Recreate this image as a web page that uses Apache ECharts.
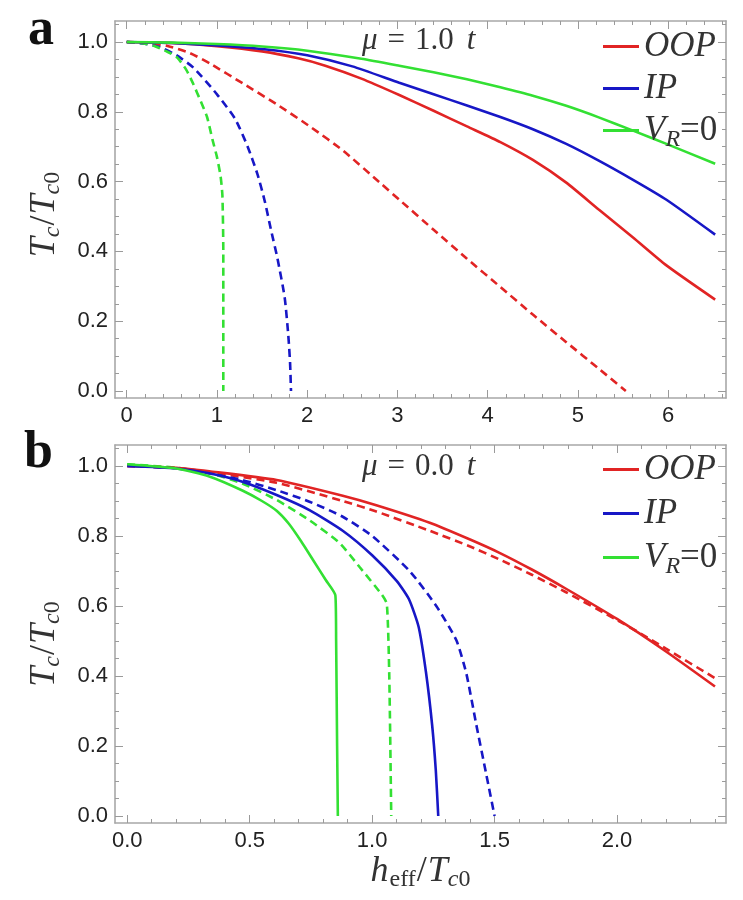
<!DOCTYPE html>
<html><head><meta charset="utf-8">
<script src="https://cdn.jsdelivr.net/npm/echarts@6/dist/echarts.min.js"></script>
<style>html,body{margin:0;padding:0;background:#fff}#c{width:743px;height:900px}</style>
</head><body><div id="c"></div>
<script>
// ---------- data (x = h_eff/Tc0, y = Tc/Tc0) ----------
// panel a : mu = 1.0 t
const aOOP = [[0,1],[0.5,0.997],[1.0,0.988],[1.5,0.973],[1.9,0.953],[2.2,0.932],[2.6,0.895],[3.02,0.848],[3.4,0.803],[3.77,0.758],[4.14,0.713],[4.5,0.662],[4.87,0.597],[5.23,0.52],[5.61,0.44],[5.98,0.36],[6.52,0.262]];
const aIP  = [[0,1],[0.5,0.997],[1.0,0.99],[1.5,0.98],[2.0,0.962],[2.5,0.93],[3.02,0.883],[3.4,0.85],[3.77,0.818],[4.14,0.785],[4.5,0.75],[4.87,0.708],[5.23,0.66],[5.61,0.605],[5.98,0.548],[6.52,0.448]];
const aVR  = [[0,1],[0.5,0.998],[1.0,0.994],[1.5,0.987],[2.0,0.975],[2.6,0.952],[3.02,0.932],[3.4,0.913],[3.77,0.893],[4.14,0.87],[4.5,0.846],[4.87,0.817],[5.23,0.784],[5.61,0.746],[5.98,0.708],[6.52,0.651]];
const aOOPd = [[0,1],[0.2,0.997],[0.44,0.989],[0.7,0.968],[0.93,0.937],[1.3,0.879],[1.67,0.82],[2.04,0.756],[2.4,0.688],[2.8,0.598],[3.02,0.548],[3.4,0.462],[3.77,0.379],[4.14,0.298],[4.5,0.219],[4.87,0.14],[5.23,0.064],[5.53,0]];
const aIPd  = [[0,1],[0.2,0.995],[0.37,0.985],[0.55,0.962],[0.74,0.926],[1.0,0.85],[1.2,0.78],[1.34,0.70],[1.45,0.62],[1.53,0.543],[1.6,0.46],[1.67,0.38],[1.75,0.268],[1.79,0.16],[1.81,0.08],[1.82,0]];
const aVRd  = [[0,1],[0.15,0.997],[0.3,0.989],[0.45,0.972],[0.56,0.955],[0.66,0.92],[0.74,0.878],[0.82,0.83],[0.89,0.785],[0.95,0.72],[1.0,0.67],[1.04,0.615],[1.06,0.56],[1.07,0.4],[1.07,0]];
// panel b : mu = 0.0 t
const bOOP = [[0,1],[0.2,0.995],[0.335,0.985],[0.61,0.96],[0.88,0.915],[1.017,0.888],[1.235,0.838],[1.4,0.79],[1.52,0.752],[1.65,0.705],[1.79,0.65],[2.0,0.563],[2.2,0.47],[2.4,0.37]];
const bIP  = [[0,1],[0.2,0.993],[0.335,0.979],[0.47,0.955],[0.61,0.917],[0.744,0.874],[0.88,0.815],[1.0,0.745],[1.1,0.672],[1.15,0.62],[1.19,0.54],[1.22,0.41],[1.245,0.26],[1.26,0.13],[1.27,0]];
const bVR  = [[0,1.005],[0.2,0.993],[0.335,0.97],[0.47,0.93],[0.55,0.90],[0.61,0.872],[0.66,0.835],[0.71,0.785],[0.76,0.73],[0.81,0.675],[0.85,0.63],[0.853,0.5],[0.857,0.2],[0.86,0]];
const bOOPd = [[0,1],[0.2,0.994],[0.335,0.983],[0.61,0.952],[0.88,0.9],[1.017,0.87],[1.235,0.815],[1.4,0.77],[1.52,0.733],[1.65,0.69],[1.79,0.64],[2.0,0.56],[2.1,0.52],[2.2,0.478],[2.4,0.394]];
const bIPd  = [[0,1],[0.2,0.994],[0.335,0.979],[0.47,0.96],[0.61,0.931],[0.744,0.898],[0.88,0.855],[1.0,0.80],[1.153,0.70],[1.262,0.60],[1.344,0.502],[1.385,0.406],[1.425,0.262],[1.466,0.119],[1.5,0]];
const bVRd  = [[0,1.005],[0.2,0.995],[0.335,0.98],[0.47,0.95],[0.61,0.903],[0.744,0.845],[0.867,0.78],[0.948,0.712],[1.04,0.632],[1.06,0.606],[1.07,0.4],[1.078,0]];

// ---------- ticks & labels ----------
const xTicksA = [0,1,2,3,4,5,6];
const xTicksB = [0,0.5,1.0,1.5,2.0];
const yTicks  = [0,0.2,0.4,0.6,0.8,1.0];
const legendNames = ['OOP','IP','VR'];
const muTexts = ['1.0','0.0'];

function steps(a, b, s){ const r=[]; for(let v=a; v<=b+1e-9; v+=s) r.push(+v.toFixed(4)); return r; }
const xMinorA = steps(0, 6.6, 0.2);
const xMinorB = steps(0, 2.4, 0.1);
const yMinor  = steps(0, 1.05, 0.05);

const RED='#e12424', BLUE='#1717c6', GREEN='#33e033';
const FRAME='#a8a8a8', TICK='#9a9a9a';
const TICKFONT = "'Liberation Sans',Arial,sans-serif";
const SERIF = "'Liberation Serif','DejaVu Serif',serif";

const xRangeA=[-0.13,6.64], xRangeB=[-0.05,2.445], yRange=[-0.02,1.06];

function xAxes(g, range, major, minor, fmt, name){
  const base = {gridIndex:g, type:'value', min:range[0], max:range[1], splitLine:{show:false}};
  const main = Object.assign({}, base, {position:'bottom',
    axisLine:{show:true,onZero:false,lineStyle:{color:FRAME,width:1.6}},
    axisTick:{show:true,inside:true,length:8,customValues:major,lineStyle:{color:TICK,width:1}},
    axisLabel:{show:true,customValues:major,formatter:fmt,margin:7,color:'#222',fontFamily:TICKFONT,fontSize:22}});
  if(name){ Object.assign(main,{name:name.text,nameLocation:'middle',nameGap:name.gap,nameTextStyle:name.style}); }
  const top = Object.assign({}, base, {position:'top',
    axisLine:{show:true,onZero:false,lineStyle:{color:FRAME,width:1.6}},
    axisTick:{show:true,inside:true,length:8,customValues:major,lineStyle:{color:TICK,width:1}},
    axisLabel:{show:false}});
  const mb = Object.assign({}, base, {position:'bottom',axisLine:{show:false,onZero:false},
    axisTick:{show:true,inside:true,length:4,customValues:minor,lineStyle:{color:TICK,width:1}},axisLabel:{show:false}});
  const mt = Object.assign({}, mb, {position:'top'});
  return [main, top, mb, mt];
}
function yAxes(g, major, minor, name){
  const base = {gridIndex:g, type:'value', min:yRange[0], max:yRange[1], splitLine:{show:false}};
  const main = Object.assign({}, base, {position:'left',
    axisLine:{show:true,onZero:false,lineStyle:{color:FRAME,width:1.6}},
    axisTick:{show:true,inside:true,length:8,customValues:major,lineStyle:{color:TICK,width:1}},
    axisLabel:{show:true,customValues:major,formatter:v=>v.toFixed(1),margin:7,color:'#222',fontFamily:TICKFONT,fontSize:22},
    name:name.text,nameLocation:'middle',nameRotate:90,nameGap:name.gap,nameTextStyle:name.style});
  const right = Object.assign({}, base, {position:'right',
    axisLine:{show:true,onZero:false,lineStyle:{color:FRAME,width:1.6}},
    axisTick:{show:true,inside:true,length:8,customValues:major,lineStyle:{color:TICK,width:1}},
    axisLabel:{show:false}});
  const ml = Object.assign({}, base, {position:'left',axisLine:{show:false,onZero:false},
    axisTick:{show:true,inside:true,length:4,customValues:minor,lineStyle:{color:TICK,width:1}},axisLabel:{show:false}});
  const mr = Object.assign({}, ml, {position:'right'});
  return [main, right, ml, mr];
}

const mathRich = {
  i:{fontFamily:SERIF,fontStyle:'italic',fontSize:36,color:'#333'},
  n:{fontFamily:SERIF,fontSize:36,color:'#333',padding:[0,1,0,1]},
  s:{fontFamily:SERIF,fontStyle:'italic',fontSize:24,color:'#333',padding:[17,0,0,0]},
  z:{fontFamily:SERIF,fontSize:24,color:'#333',padding:[17,0,0,0]},
  e:{fontFamily:SERIF,fontSize:24,color:'#333',padding:[17,0,0,1]}
};
const yNameA = {text:'{i|T}{s|c}{n|/}{i|T}{s|c}{z|0}', gap:50, style:{rich:mathRich,padding:[0,10,0,0]}};
const yNameB = {text:'{i|T}{s|c}{n|/}{i|T}{s|c}{z|0}', gap:50, style:{rich:mathRich,padding:[0,20,0,0]}};
const xName = {text:'{i|h}{e|eff}{n|/}{i|T}{s|c}{z|0}', gap:28, style:{rich:mathRich}};

const xa = xAxes(0, xRangeA, xTicksA, xMinorA, v=>String(Math.round(v)));
const xb = xAxes(1, xRangeB, xTicksB, xMinorB, v=>v.toFixed(1), xName);
const ya = yAxes(0, yTicks, yMinor, yNameA);
const yb = yAxes(1, yTicks, yMinor, yNameB);

function line(name, data, color, dashed, xi, yi){
  return {name, type:'line', data, xAxisIndex:xi, yAxisIndex:yi, color, showSymbol:false, symbol:'none',
    smooth:0.2, lineStyle:{color, width:2.6, type: dashed ? [8,5] : 'solid'}, emphasis:{disabled:true}, z: dashed?2:3};
}

const legendRich = {
  i:{fontFamily:SERIF,fontStyle:'italic',fontSize:35,color:'#333',lineHeight:41},
  n:{fontFamily:SERIF,fontSize:35,color:'#333',lineHeight:41},
  s:{fontFamily:SERIF,fontStyle:'italic',fontSize:24,color:'#333',padding:[18,0,0,0]}
};
function legendFmt(n){ return n==='VR' ? '{i|V}{s|R}{n|=0}' : '{i|'+n+'}'; }
function legend(top, gap){
  return {data:legendNames, orient:'vertical', left:598, top, icon:'rect', itemWidth:36, itemHeight:3, itemGap:gap,
    selectedMode:false, formatter:legendFmt, textStyle:{padding:[0,0,0,0], rich:legendRich}};
}
const muRich = {
  m:{fontFamily:SERIF,fontStyle:'italic',fontWeight:'normal',fontSize:31,color:'#333'},
  n:{fontFamily:SERIF,fontWeight:'normal',fontSize:31,color:'#333',padding:[0,10,0,10]},
  d:{fontFamily:SERIF,fontWeight:'normal',fontSize:31,color:'#333',padding:[0,13,0,0]}
};

const option = {
  animation:false,
  backgroundColor:'#fff',
  grid:[{left:115, top:21, width:611, height:377},{left:115, top:445, width:611, height:378}],
  xAxis:[...xa, ...xb],
  yAxis:[...ya, ...yb],
  title:[
    {text:'a', left:28, top:5, padding:0, textStyle:{fontFamily:SERIF,fontWeight:'bold',fontSize:52,color:'#111'}},
    {text:'b', left:24, top:428, padding:0, textStyle:{fontFamily:SERIF,fontWeight:'bold',fontSize:52,color:'#111'}},
    {text:'{m|μ}{n|=}{d|'+muTexts[0]+'}{m|t}', left:362, top:25, padding:0, textStyle:{fontWeight:'normal',rich:muRich}},
    {text:'{m|μ}{n|=}{d|'+muTexts[1]+'}{m|t}', left:362, top:451, padding:0, textStyle:{fontWeight:'normal',rich:muRich}}
  ],
  legend:[legend(24, 7), legend(447, 9)],
  series:[
    line('OOP dashed', aOOPd, RED, true, 0, 0),
    line('IP dashed', aIPd, BLUE, true, 0, 0),
    line('VR dashed', aVRd, GREEN, true, 0, 0),
    line('OOP', aOOP, RED, false, 0, 0),
    line('IP', aIP, BLUE, false, 0, 0),
    line('VR', aVR, GREEN, false, 0, 0),
    line('OOP dashed', bOOPd, RED, true, 4, 4),
    line('IP dashed', bIPd, BLUE, true, 4, 4),
    line('VR dashed', bVRd, GREEN, true, 4, 4),
    line('OOP', bOOP, RED, false, 4, 4),
    line('IP', bIP, BLUE, false, 4, 4),
    line('VR', bVR, GREEN, false, 4, 4)
  ]
};
const chart = echarts.init(document.getElementById('c'), null, {renderer:'canvas'});
chart.setOption(option);
</script></body></html>
